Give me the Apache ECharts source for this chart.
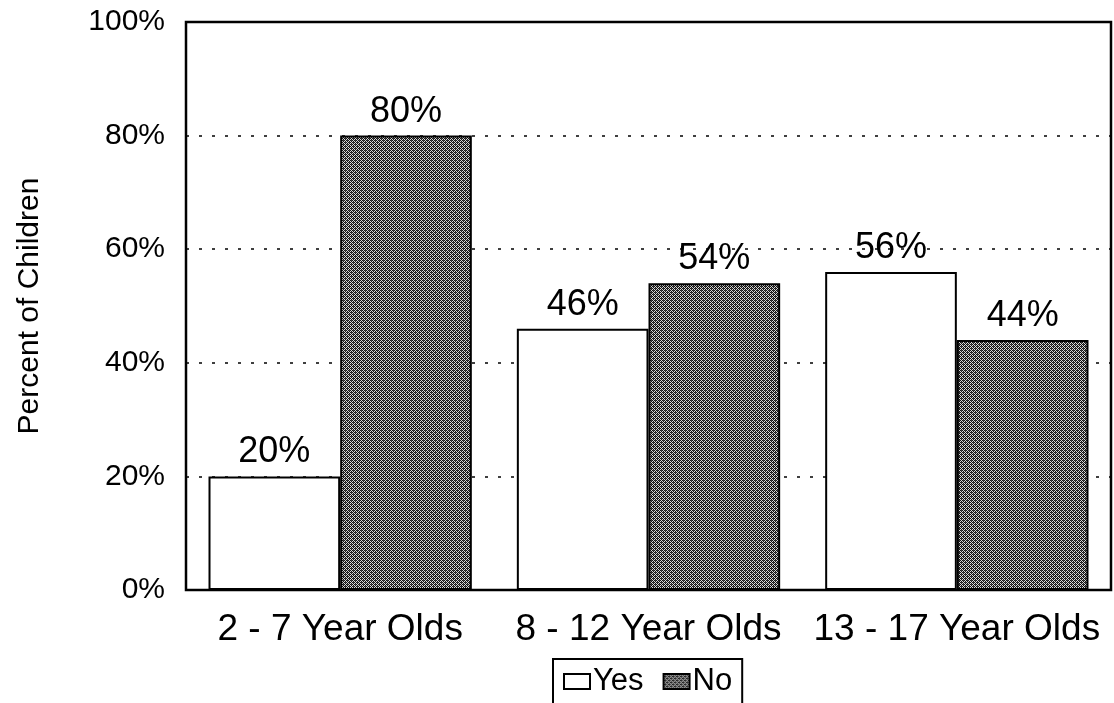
<!DOCTYPE html>
<html><head><meta charset="utf-8">
<script src="https://cdn.jsdelivr.net/npm/echarts@6/dist/echarts.min.js"></script>
<style>html,body{margin:0;padding:0;background:#fff}#c{width:1114px;height:703px}</style>
</head><body><div id="c"></div>
<script>
var categories = ['2 - 7 Year Olds', '8 - 12 Year Olds', '13 - 17 Year Olds'];
var yesValues = [20, 46, 56];
var noValues = [80, 54, 44];
var yTicks = [0, 20, 40, 60, 80, 100];

var pc = document.createElement('canvas');
pc.width = 4; pc.height = 4;
var ctx = pc.getContext('2d');
ctx.fillStyle = '#d8d8d8'; ctx.fillRect(0,0,4,4);
ctx.fillStyle = '#111';
for (var i=0;i<4;i++) for (var j=0;j<4;j++) if ((i+j)%2===0) ctx.fillRect(i,j,1,1);
ctx.fillStyle = '#444';
ctx.fillRect(1,2,1,1); ctx.fillRect(3,0,1,1);

var chart = echarts.init(document.getElementById('c'));
var font = 'Liberation Sans, Arial, sans-serif';
chart.setOption({
  animation:false,
  backgroundColor:'#fff',
  textStyle:{fontFamily:font},
  grid:{left:186,right:3,top:22,bottom:113,show:true,borderColor:'#000',borderWidth:2.5,containLabel:false},
  legend:{
    data:['Yes','No'], left:553, top:659, icon:'rect',
    itemWidth:26, itemHeight:15, itemGap:19,
    borderColor:'#000', borderWidth:2, backgroundColor:'#fff', padding:[7,10,10,10],
    textStyle:{fontSize:31,color:'#000',fontFamily:font, padding:[0,0,0,-2]}
  },
  xAxis:{
    type:'category', data:categories,
    axisLine:{show:false}, axisTick:{show:false},
    axisLabel:{interval:0,fontSize:37,color:'#000',margin:21,fontFamily:font}
  },
  yAxis:{
    type:'value', min:0, max:100, interval:20,
    name:'Percent of Children', nameLocation:'middle', nameGap:141,
    nameTextStyle:{fontSize:30,color:'#000',fontFamily:font},
    axisLine:{show:false}, axisTick:{show:false},
    axisLabel:{fontSize:30,color:'#000',margin:21,fontFamily:font,
      formatter:function(v){return yTicks.indexOf(v)>=0 ? v+'%' : '';}},
    splitLine:{show:true,lineStyle:{type:[3,10],color:'#000',width:1.5}}
  },
  series:[
    {name:'Yes',type:'bar',data:yesValues,barGap:'0%',barCategoryGap:'14.6%',
     itemStyle:{color:'#fff',borderColor:'#000',borderWidth:2},
     label:{show:true,position:'top',distance:6,fontSize:36,color:'#000',formatter:'{c}%',fontFamily:font}},
    {name:'No',type:'bar',data:noValues,barGap:'0%',barCategoryGap:'14.6%',
     itemStyle:{color:{image:pc,repeat:'repeat'},borderColor:'#000',borderWidth:2},
     label:{show:true,position:'top',distance:6,fontSize:36,color:'#000',formatter:'{c}%',fontFamily:font}}
  ]
});
</script></body></html>
